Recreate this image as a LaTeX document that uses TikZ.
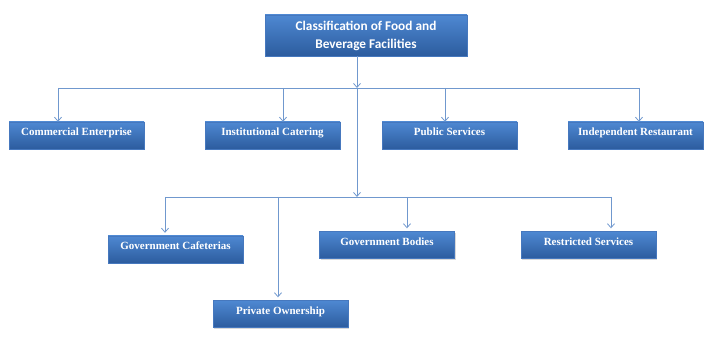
\documentclass[tikz,border=0pt]{standalone}
\usepackage{fontspec}
\setmainfont{Liberation Serif}
\newfontfamily\titlefont{Carlito}
\usetikzlibrary{arrows.meta,shadows}
\definecolor{BoxTop}{RGB}{78,136,210}
\definecolor{BoxBot}{RGB}{44,92,158}
\definecolor{BoxEdge}{RGB}{70,120,190}
\definecolor{LinkClr}{RGB}{112,152,206}

\begin{document}
\begin{tikzpicture}[x=1pt,y=-1pt,
  boxbase/.style={draw=BoxEdge,line width=0.4pt,top color=BoxTop,bottom color=BoxBot,
    inner sep=0pt,text=white,
    drop shadow={opacity=0.3,shadow xshift=1.2pt,shadow yshift=-1.5pt}},
  box/.style={boxbase,minimum width=135pt,minimum height=27pt,
    font=\bfseries\fontsize{11}{12}\selectfont,text height=7pt,text depth=6pt},
  titlebox/.style={boxbase,minimum width=202pt,minimum height=41pt,align=center,
    font=\titlefont\bfseries\fontsize{13.3}{18}\selectfont},
  link/.style={LinkClr,line width=0.8pt},
  arr/.style={link,-{Straight Barb[length=4pt,width=7pt]}}]
\useasboundingbox (0,0) rectangle (721,344);

\node[titlebox] (food) at (366,35.5) {Classification of Food and\\Beverage Facilities};

\node[box] (comm) at (76.5,135.5) {Commercial Enterprise};
\node[box] (inst) at (272.5,135.5) {Institutional Catering};
\node[box] (pub) at (449.5,135.5) {Public Services};
\node[box] (indep) at (635.5,135.5) {Independent Restaurant};

\node[box] (gcaf) at (175.5,249.5) {Government Cafeterias};
\node[box] (gbod) at (387,245) {Government Bodies};
\node[box] (rserv) at (588.5,245) {Restricted Services};
\node[box] (priv) at (280.5,314) {Private Ownership};

\coordinate (hubA) at (357,88);
\coordinate (dA1) at (58,88);
\coordinate (dA2) at (283,88);
\coordinate (dA3) at (445,88);
\coordinate (dA4) at (639,88);
\coordinate (hubB) at (357,197);
\coordinate (dB1) at (165,197);
\coordinate (dB2) at (278,197);
\coordinate (dB3) at (407,197);
\coordinate (dB4) at (611,197);

\draw[arr] (food.south -| hubA) -- (hubA);
\draw[link] (dA1) -- (dA4);
\draw[arr] (dA1) -- (dA1 |- comm.north);
\draw[arr] (dA2) -- (dA2 |- inst.north);
\draw[arr] (dA3) -- (dA3 |- pub.north);
\draw[arr] (dA4) -- (dA4 |- indep.north);

\draw[arr] (hubA) -- (hubB);
\draw[link] (dB1) -- (dB4);
\draw[arr,shorten >=3pt] (dB1) -- (dB1 |- gcaf.north);
\draw[arr,shorten >=3pt] (dB2) -- (dB2 |- priv.north);
\draw[arr,shorten >=3pt] (dB3) -- (dB3 |- gbod.north);
\draw[arr,shorten >=3pt] (dB4) -- (dB4 |- rserv.north);

\end{tikzpicture}
\end{document}
